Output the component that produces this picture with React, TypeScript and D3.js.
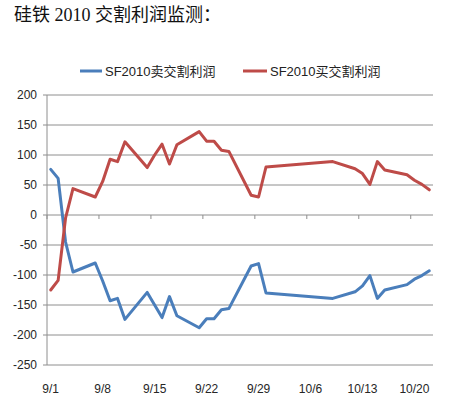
import * as d3 from "d3";

const dates = [
  "9/1", "9/2", "9/3", "9/4", "9/7", "9/8", "9/9", "9/10", "9/11",
  "9/14", "9/15", "9/16", "9/17", "9/18", "9/21", "9/22", "9/23", "9/24", "9/25",
  "9/28", "9/29", "9/30", "10/9", "10/12", "10/13", "10/14", "10/15", "10/16",
  "10/19", "10/20", "10/21", "10/22",
];
const sellProfit = [
  76, 61, -45, -95, -80, -110, -143, -139, -174,
  -129, -150, -171, -136, -168, -188, -173, -173, -158, -156,
  -85, -81, -130, -139, -128, -118, -101, -139, -125,
  -116, -107, -101, -93,
];
const buyProfit = [
  -125, -109, -5, 44, 30, 56, 93, 89, 122,
  79, 100, 118, 85, 117, 139, 123, 123, 108, 106,
  33, 30, 80, 89, 77, 69, 51, 89, 75,
  67, 58, 51, 42,
];
const yTicks = [200, 150, 100, 50, 0, -50, -100, -150, -200, -250];
const xTickLabels = ["9/1", "9/8", "9/15", "9/22", "9/29", "10/6", "10/13", "10/20"];

const BLUE = "#4a7ebb";
const RED = "#be4b48";
const GRID = "#8e8e8e";
const LABEL_FONT = "'Liberation Sans', Arial, sans-serif";
const CJK_FONT = "'Liberation Sans', 'Noto Sans CJK SC', sans-serif";

const toDate = (s: string, hour = 12) => {
  const [m, d] = s.split("/").map(Number);
  return new Date(Date.UTC(2020, m - 1, d, hour));
};

export default function App() {
  const width = 449;
  const height = 398;
  const left = 47;
  const right = 433;
  const top = 95;
  const bottom = 365;

  const x = d3
    .scaleUtc()
    .domain([toDate("9/1", 0), toDate("10/23", 0)])
    .range([left, right]);
  const y = d3.scaleLinear().domain([-250, 200]).range([bottom, top]);

  const line = d3
    .line<number>()
    .x((_, i) => x(toDate(dates[i])))
    .y((v) => y(v));

  const series = [
    { name: "SF2010卖交割利润", values: sellProfit, color: BLUE },
    { name: "SF2010买交割利润", values: buyProfit, color: RED },
  ];

  return (
    <svg width={width} height={height} style={{ position: "absolute", left: 0, top: 0, background: "#fff" }}>
      {/* Title */}
      <text x={14} y={21} fontSize={18} fill="#111" fontFamily="'Liberation Serif', 'Noto Sans CJK SC', serif">
        硅铁 2010 交割利润监测：
      </text>

      {/* Legend */}
      <g fontFamily={CJK_FONT} fontSize={13} fill="#222">
        <line x1={80} x2={102} y1={71} y2={71} stroke={BLUE} strokeWidth={3} />
        <text x={105} y={75.5}>{series[0].name}</text>
        <line x1={243} x2={267} y1={71} y2={71} stroke={RED} strokeWidth={3} />
        <text x={270} y={75.5}>{series[1].name}</text>
      </g>

      {/* Grid lines */}
      {yTicks.map((t) => (
        <line key={t} x1={left} x2={right} y1={y(t)} y2={y(t)} stroke={GRID} strokeWidth={1} />
      ))}

      {/* Y axis */}
      <line x1={left} x2={left} y1={top} y2={bottom} stroke={GRID} strokeWidth={1} />
      {yTicks.map((t) => (
        <g key={t}>
          <line x1={left - 4} x2={left} y1={y(t)} y2={y(t)} stroke={GRID} />
          <text
            x={37}
            y={y(t)}
            dy="0.35em"
            textAnchor="end"
            fontSize={12}
            fontFamily={LABEL_FONT}
            fill="#262626"
          >
            {t}
          </text>
        </g>
      ))}

      {/* X axis ticks at zero line */}
      {xTickLabels.map((l) => (
        <line
          key={l}
          x1={x(toDate(l, 0))}
          x2={x(toDate(l, 0))}
          y1={y(0)}
          y2={y(0) + 4}
          stroke={GRID}
        />
      ))}
      {xTickLabels.map((l) => (
        <text
          key={l}
          x={x(toDate(l))}
          y={393}
          textAnchor="middle"
          fontSize={12}
          fontFamily={LABEL_FONT}
          fill="#262626"
        >
          {l}
        </text>
      ))}

      {/* Lines */}
      {series.map((s) => (
        <path
          key={s.name}
          d={line(s.values) ?? ""}
          fill="none"
          stroke={s.color}
          strokeWidth={3}
          strokeLinejoin="round"
          strokeLinecap="round"
        />
      ))}
    </svg>
  );
}
